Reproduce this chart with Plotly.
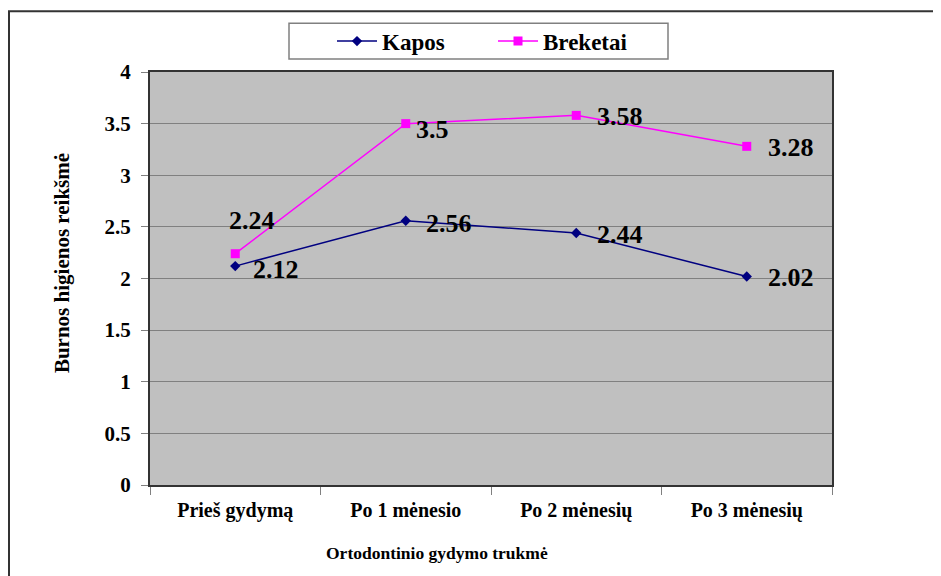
import plotly.graph_objects as go

categories = ["Prieš gydymą", "Po 1 mėnesio", "Po 2 mėnesių", "Po 3 mėnesių"]
kapos = [2.12, 2.56, 2.44, 2.02]
breketai = [2.24, 3.5, 3.58, 3.28]
y_ticks = [0, 0.5, 1, 1.5, 2, 2.5, 3, 3.5, 4]
y_tick_labels = ["0", "0.5", "1", "1.5", "2", "2.5", "3", "3.5", "4"]

FONT = "Liberation Serif, Times New Roman, serif"

fig = go.Figure()
fig.add_trace(go.Scatter(
    x=categories, y=kapos, name="Kapos", mode="lines+markers",
    line=dict(color="#000080", width=1.5),
    marker=dict(symbol="diamond", size=8, color="#000080"),
))
fig.add_trace(go.Scatter(
    x=categories, y=breketai, name="Breketai", mode="lines+markers",
    line=dict(color="#FF00FF", width=1.5),
    marker=dict(symbol="square", size=9, color="#FF00FF"),
))

LBL = dict(family=FONT, size=26, color="black", weight="bold")
kap_off = [(41, -3), (43, -3), (44, -1), (44, -1)]
brk_off = [(17, 33), (27, -6), (44, -1), (44, -1)]
annotations = []
for c, v, (dx, dy) in zip(categories, kapos, kap_off):
    annotations.append(dict(x=c, y=v, xref="x", yref="y", text=f"{v:g}", showarrow=False,
                            xshift=dx, yshift=dy, font=LBL))
for c, v, (dx, dy) in zip(categories, breketai, brk_off):
    annotations.append(dict(x=c, y=v, xref="x", yref="y", text=f"{v:g}", showarrow=False,
                            xshift=dx, yshift=dy, font=LBL))

OFF = 8  # page body margin
FW, FH = 941 - OFF, 576 - OFF
L, R, T, B = 150 - OFF, 832 - OFF, 70 - OFF, 485 - OFF
W, H = R - L, B - T
def px(x):
    return (x - OFF - L) / W
def py(y):
    return (B - (y - OFF)) / H

annotations.append(dict(x=px(437), y=py(553), xref="paper", yref="paper", text="Ortodontinio gydymo trukmė",
                        xanchor="center", yanchor="middle",
                        showarrow=False, font=dict(family=FONT, size=17.5, color="black", weight="bold")))
annotations.append(dict(x=px(62), y=py(262), xref="paper", yref="paper", text="Burnos higienos reikšmė",
                        xanchor="center", yanchor="middle",
                        showarrow=False, textangle=-90, font=dict(family=FONT, size=21, color="black", weight="bold")))

shapes = [
    dict(type="rect", xref="paper", yref="paper", x0=px(OFF + 1), x1=px(960), y0=py(600), y1=py(OFF + 1),
         line=dict(color="#333333", width=2), fillcolor="rgba(0,0,0,0)", layer="below"),
    dict(type="rect", xref="paper", yref="paper", x0=px(289), x1=px(668), y0=py(57), y1=py(21),
         line=dict(color="#808080", width=1.5), fillcolor="white", layer="below"),
]

fig.update_layout(
    width=FW, height=FH,
    margin=dict(l=L, r=FW - R, t=T, b=FH - B),
    paper_bgcolor="white", plot_bgcolor="#C0C0C0",
    font=dict(family=FONT, color="black", weight="bold"),
    showlegend=True,
    legend=dict(orientation="h", x=px(332), y=py(39), xanchor="left", yanchor="middle",
                bgcolor="rgba(0,0,0,0)", borderwidth=0,
                font=dict(family=FONT, size=23, color="black", weight="bold"),
                itemwidth=40, entrywidth=106, entrywidthmode="pixels"),
    annotations=annotations,
    shapes=shapes,
    xaxis=dict(
        range=[-0.5, 3.5], tickson="boundaries", ticks="outside", ticklen=8, tickcolor="#808080",
        showgrid=False, showline=True, mirror=True, linecolor="#333333", linewidth=2,
        tickfont=dict(family=FONT, size=20, color="black", weight="bold"), ticklabelstandoff=6,
    ),
    yaxis=dict(
        range=[0, 4], tickvals=y_ticks, ticktext=y_tick_labels, ticks="outside", ticklen=7, tickcolor="#808080",
        showgrid=True, gridcolor="#808080", gridwidth=1, zeroline=False,
        showline=True, mirror=True, linecolor="#333333", linewidth=2,
        tickfont=dict(family=FONT, size=21, color="black", weight="bold"), ticklabelstandoff=6,
    ),
)

fig.write_html("out.html")
